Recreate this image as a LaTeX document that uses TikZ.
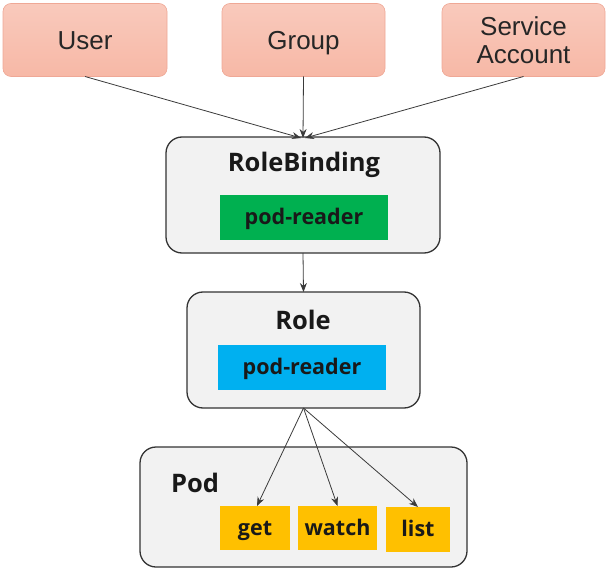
\documentclass[tikz,border=0pt]{standalone}
\usepackage{fontspec}
\setmainfont{Liberation Sans}
\newfontfamily\boldfam{Open Sans}
\usetikzlibrary{arrows.meta}
\definecolor{salmon}{HTML}{F7B8A6}
\definecolor{salmonedge}{HTML}{EFA896}
\definecolor{panel}{HTML}{F2F2F2}
\definecolor{greenbox}{HTML}{00B050}
\definecolor{bluebox}{HTML}{00B0F0}
\definecolor{yellowbox}{HTML}{FFC000}
\definecolor{linecol}{HTML}{3A3A3A}
\tikzset{
  subject/.style={draw=salmonedge, line width=0.6pt, top color=salmon!75!white, bottom color=salmon, rounded corners=8pt,
    inner sep=0pt, outer sep=0pt, align=center, font=\fontsize{26}{28}\selectfont, text=black!85},
  oneline/.style={text height=19pt, text depth=0.5pt},
  panelbox/.style={draw=black!80, line width=1.3pt, fill=panel, rounded corners=16pt, inner sep=0pt, outer sep=0pt},
  tag/.style={inner sep=0pt, outer sep=0pt, font=\boldfam\bfseries\fontsize{21.5}{24}\selectfont, text=black!90,
    text height=15pt, text depth=1pt},
  title/.style={inner sep=0pt, font=\boldfam\bfseries\fontsize{25.5}{28}\selectfont, text=black!90},
  conn/.style={draw=linecol, line width=0.8pt, -{Stealth[length=9pt,width=7pt]}}
}
\begin{document}
\begin{tikzpicture}[x=1pt,y=-1pt]
\useasboundingbox (0,0) rectangle (610,572);
% top subjects
\node[subject, oneline, minimum width=164pt, minimum height=73pt] (user) at (85,40) {User};
\node[subject, oneline, minimum width=163pt, minimum height=73pt] (group) at (303.5,40) {Group};
\node[subject, minimum width=163pt, minimum height=73pt] (sa) at (523.5,40) {Service\\Account};
% RoleBinding
\node[panelbox, minimum width=274pt, minimum height=116pt] (rb) at (303,195) {};
\node[title] (rbt) at (304,165) {RoleBinding};
\node[tag, fill=greenbox, minimum width=168pt, minimum height=45pt] (rbtag) at (304,217.5) {pod-reader};
% Role
\node[panelbox, minimum width=233pt, minimum height=116pt] (role) at (303.5,350) {};
\node[title] (rolet) at (303,320) {Role};
\node[tag, fill=bluebox, minimum width=168pt, minimum height=45pt] (roletag) at (302,367.5) {pod-reader};
% Pod
\node[panelbox, minimum width=327pt, minimum height=120pt] (pod) at (303.5,507) {};
\node[title] (podt) at (195,483) {Pod};
\node[tag, fill=yellowbox, minimum width=70pt, minimum height=44pt] (get) at (255,528) {get};
\node[tag, fill=yellowbox, minimum width=79pt, minimum height=44pt] (watch) at (337.5,528) {watch};
\node[tag, fill=yellowbox, minimum width=64pt, minimum height=45pt] (list) at (418,529.5) {list};
% connectors
\coordinate (rbin) at ([yshift=-1pt]rb.north);
\draw[conn] (user.south) -- ([xshift=-2pt]rbin);
\draw[conn] (group.south) -- (rbin);
\draw[conn] (sa.south) -- ([xshift=2pt]rbin);
\draw[conn] (rb.south) -- (role.north);
\draw[conn] (role.south) -- ([xshift=2pt]get.north);
\draw[conn] (role.south) -- (watch.north);
\draw[conn] (role.south) -- (list.north);
\end{tikzpicture}
\end{document}
